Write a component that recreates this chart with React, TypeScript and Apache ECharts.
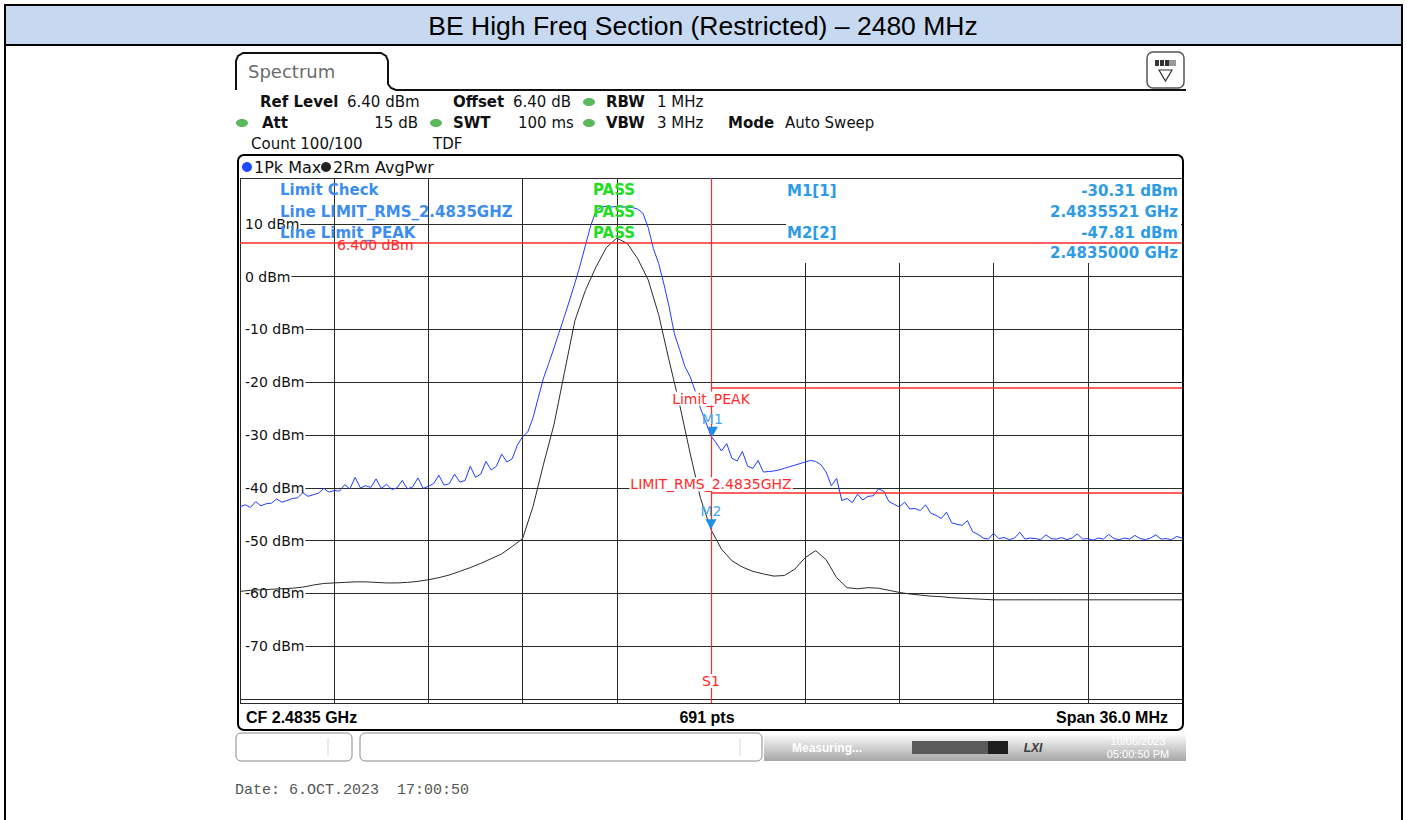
import React, { useEffect, useRef } from "react";
import * as echarts from "echarts";

// ---- sweep definition ----
const START_MHZ = 2465.5;
const SPAN_MHZ = 36.0;
const GRID_DIV_MHZ = 3.6;
const PK_STEP_MHZ = 0.2;
const RMS_STEP_MHZ = 0.4;
const Y_MIN = -80.74;
const Y_MAX = 18.69;
const Y_LABEL_VALUES = [10, 0, -10, -20, -30, -40, -50, -60, -70];

// Trace 1: 1Pk Max (dBm), one value every 0.2 MHz from 2465.5 MHz
const pkMaxDbm = [
  -43.6, -43.2, -43.7, -42.6, -43.4, -43.0, -42.9, -42.1, -42.7, -42.4,
  -42.0, -41.9, -40.9, -41.6, -41.3, -41.0, -40.1, -40.8, -40.5, -40.6,
  -39.4, -40.2, -38.0, -40.0, -39.6, -39.9, -38.3, -40.1, -39.3, -40.3,
  -40.0, -38.6, -40.2, -39.8, -38.1, -40.1, -39.7, -39.2, -37.6, -39.5,
  -39.2, -37.4, -38.9, -38.6, -35.9, -38.0, -37.4, -35.0, -36.6, -35.9,
  -33.6, -35.1, -34.5, -31.9, -30.3, -29.4, -26.7, -22.9, -19.2, -16.4,
  -13.5, -10.5, -7.5, -4.4, -1.2, 2.2, 5.9, 9.6, 12.4, 13.2,
  13.3, 13.2, 13.3, 13.2, 13.2, 13.1, 12.8, 12.0, 9.3, 5.3,
  2.5, -1.4, -5.7, -10.8, -13.8, -17.0, -18.9, -21.7, -25.0, -27.5,
  -30.2, -31.5, -33.0, -31.6, -34.4, -34.9, -33.1, -35.9, -36.3, -34.8,
  -37.0, -36.9, -36.8, -36.6, -36.3, -36.0, -35.7, -35.4, -35.1, -34.8,
  -35.0, -35.6, -37.0, -39.6, -38.2, -42.4, -42.0, -42.8, -41.2, -42.3,
  -41.6, -41.5, -40.2, -40.6, -42.6, -43.1, -43.6, -42.7, -44.0, -43.9,
  -44.3, -43.2, -44.8, -45.2, -45.8, -44.6, -46.6, -46.9, -47.1, -46.2,
  -48.3, -48.8, -49.5, -49.7, -48.6, -49.6, -49.4, -49.8, -49.5, -48.4,
  -49.7, -49.5, -49.6, -49.8, -48.9, -49.6, -49.7, -49.4, -49.8, -49.5,
  -48.7, -49.7, -49.6, -49.9, -49.5, -49.7, -48.8, -49.6, -49.8, -49.5,
  -49.7, -49.0, -49.6, -49.8, -49.5, -48.9, -49.7, -49.6, -49.8, -49.2,
  -49.5,
];

// Trace 2: 2Rm AvgPwr (dBm), one value every 0.4 MHz from 2465.5 MHz
const rmsAvgDbm = [
  -59.6, -59.4, -59.3, -59.2, -59.1, -59.0, -58.8, -58.4, -58.1, -58.0,
  -57.9, -57.8, -57.8, -57.9, -58.0, -58.0, -57.9, -57.7, -57.4, -57.0,
  -56.5, -55.8, -55.1, -54.3, -53.4, -52.5, -51.1, -49.6, -43.5, -35.5,
  -28.0, -18.1, -8.3, -2.6, 1.8, 5.5, 7.3, 6.3, 3.4, -0.6,
  -7.2, -15.9, -24.2, -33.4, -42.0, -47.9, -51.6, -53.8, -55.0, -55.8,
  -56.3, -56.7, -56.6, -55.4, -53.2, -51.9, -53.6, -57.0, -58.9, -59.1,
  -58.9, -59.0, -59.4, -59.8, -60.1, -60.3, -60.5, -60.6, -60.8, -60.9,
  -61.0, -61.1, -61.2, -61.2, -61.2, -61.2, -61.2, -61.2, -61.2, -61.2,
  -61.2, -61.2, -61.2, -61.2, -61.2, -61.2, -61.2, -61.2, -61.2, -61.2,
  -61.2,
];

const DISPLAY_LINE_DBM = 6.4;
const LIMIT_PEAK_DBM = -21.0;
const LIMIT_RMS_DBM = -41.0;
const LIMIT_START_MHZ = 2483.5;
const S1_MHZ = 2483.5;

const markerNames = ["M1", "M2"];
const markerFreqGHz = [2.4835521, 2.4835];
const markerLevelDbm = [-30.31, -47.81];

const DV = '"DejaVu Sans", Verdana, sans-serif';
const LS = '"Liberation Sans", Arial, sans-serif';

const off = (mhz: number) => mhz - START_MHZ;

function T(x: number, y: number, text: string, font: string, fill = "#111", align = "left", z = 20) {
  return {
    type: "text",
    x,
    y,
    z,
    style: { text, font, fill, textAlign: align, textVerticalAlign: "middle", align, verticalAlign: "middle" },
  };
}

function dot(cx: number, cy: number, fill: string, rx = 6, ry = 4) {
  return { type: "ellipse", z: 20, shape: { cx, cy, rx, ry }, style: { fill } };
}

export default function App() {
  const ref = useRef<HTMLDivElement>(null);

  useEffect(() => {
    if (!ref.current) return;
    const chart = echarts.init(ref.current, undefined, { renderer: "svg" });

    const pkData = pkMaxDbm.map((v, i) => [i * PK_STEP_MHZ, v]);
    const rmsData = rmsAvgDbm.map((v, i) => [i * RMS_STEP_MHZ, v]);

    const red = "#ff2a2a";
    const mkBlue = "#2d9be6";
    const limBlue = "#3d8cf0";
    const green = "#22dd22";

    const hdr = `15px ${DV}`;
    const hdrB = `bold 15px ${DV}`;

    const graphic: any[] = [
      // outer table borders + title band
      { type: "rect", z: 0, shape: { x: 5, y: 5, width: 1397, height: 40 }, style: { fill: "#c6d9f1", stroke: "#000", lineWidth: 2 } },
      { type: "line", z: 0, shape: { x1: 5, y1: 5, x2: 5, y2: 820 }, style: { stroke: "#000", lineWidth: 2 } },
      { type: "line", z: 0, shape: { x1: 1402, y1: 5, x2: 1402, y2: 820 }, style: { stroke: "#000", lineWidth: 2 } },
      T(703, 26, "BE High Freq Section (Restricted) – 2480 MHz", `26.5px ${LS}`, "#000", "center"),

      // Spectrum tab
      {
        type: "polyline", z: 0,
        shape: { points: [[236, 90], [236, 61], [238, 56], [243, 53], [381, 53], [386, 56], [388, 61], [388, 84], [391, 88], [396, 90], [1186, 90]] },
        style: { stroke: "#111", lineWidth: 2, fill: null },
      },
      T(248, 71, "Spectrum", `18px ${DV}`, "#6c6c6c"),
      // icon
      { type: "rect", z: 1, shape: { x: 1147, y: 52, width: 37, height: 36, r: 6 }, style: { fill: "#fff", stroke: "#555", lineWidth: 1.5 } },
      { type: "rect", z: 2, shape: { x: 1155, y: 60, width: 14, height: 6 }, style: { fill: "#333" } },
      { type: "rect", z: 2, shape: { x: 1169, y: 60, width: 7, height: 6 }, style: { fill: "#9a9a9a" } },
      { type: "line", z: 3, shape: { x1: 1159.5, y1: 60, x2: 1159.5, y2: 66 }, style: { stroke: "#fff", lineWidth: 1 } },
      { type: "line", z: 3, shape: { x1: 1164.5, y1: 60, x2: 1164.5, y2: 66 }, style: { stroke: "#fff", lineWidth: 1 } },
      { type: "polygon", z: 2, shape: { points: [[1159, 70], [1172, 70], [1165.5, 81]] }, style: { fill: "#fff", stroke: "#333", lineWidth: 1.2 } },

      // header row 1
      T(260, 102, "Ref Level", hdrB),
      T(347, 102, "6.40 dBm", hdr),
      T(453, 102, "Offset", hdrB),
      T(513, 102, "6.40 dB", hdr),
      dot(589, 102, "#5cb85c"),
      T(606, 102, "RBW", hdrB),
      T(657, 102, "1 MHz", hdr),
      // header row 2
      dot(242, 123, "#5cb85c"),
      T(262, 123, "Att", hdrB),
      T(418, 123, "15 dB", hdr, "#111", "right"),
      dot(436, 123, "#5cb85c"),
      T(453, 123, "SWT", hdrB),
      T(518, 123, "100 ms", hdr),
      dot(589, 123, "#5cb85c"),
      T(606, 123, "VBW", hdrB),
      T(657, 123, "3 MHz", hdr),
      T(728, 123, "Mode", hdrB),
      T(785, 123, "Auto Sweep", hdr),
      // header row 3
      T(251, 144, "Count 100/100", hdr),
      T(433, 144, "TDF", hdr),

      // plot frame
      { type: "rect", z: 5, shape: { x: 238, y: 155, width: 945, height: 575, r: 6 }, style: { fill: null, stroke: "#000", lineWidth: 2 } },
      // trace legend
      { type: "circle", z: 20, shape: { cx: 247, cy: 167, r: 5 }, style: { fill: "#1f4bff" } },
      T(254, 167, "1Pk Max", `16px ${DV}`),
      { type: "circle", z: 20, shape: { cx: 326, cy: 167, r: 5 }, style: { fill: "#222" } },
      T(333, 167, "2Rm AvgPwr", `16px ${DV}`),

      // marker table background (hides grid)
      { type: "rect", z: 1, shape: { x: 786, y: 179, width: 395, height: 84 }, style: { fill: "#fff" } },

      // limit check texts
      T(280, 190, "Limit Check", `bold 15px ${DV}`, limBlue),
      T(280, 212, "Line LIMIT_RMS_2.4835GHZ", `bold 15px ${DV}`, limBlue),
      T(280, 233, "Line Limit_PEAK", `bold 15px ${DV}`, limBlue),
      T(614, 190, "PASS", `bold 15px ${DV}`, green, "center"),
      T(614, 212, "PASS", `bold 15px ${DV}`, green, "center"),
      T(614, 233, "PASS", `bold 15px ${DV}`, green, "center"),
      // marker table
      T(787, 191, "M1[1]", `bold 15px ${DV}`, mkBlue),
      T(1178, 191, "-30.31 dBm", `bold 15px ${DV}`, mkBlue, "right"),
      T(1178, 212, "2.4835521 GHz", `bold 15px ${DV}`, mkBlue, "right"),
      T(787, 233, "M2[2]", `bold 15px ${DV}`, mkBlue),
      T(1178, 233, "-47.81 dBm", `bold 15px ${DV}`, mkBlue, "right"),
      T(1178, 253, "2.4835000 GHz", `bold 15px ${DV}`, mkBlue, "right"),
      // display line label
      T(337, 245, "6.400 dBm", `14px ${DV}`, red),

      // bottom info bar
      T(246, 717, "CF 2.4835 GHz", `bold 16px ${LS}`, "#000"),
      T(707, 717, "691 pts", `bold 16px ${LS}`, "#000", "center"),
      T(1168, 717, "Span 36.0 MHz", `bold 16px ${LS}`, "#000", "right"),

      // status bar
      { type: "rect", z: 1, shape: { x: 236, y: 733, width: 116, height: 28, r: 5 }, style: { fill: "#fff", stroke: "#8a8a8a", lineWidth: 1 } },
      { type: "line", z: 2, shape: { x1: 328, y1: 738, x2: 328, y2: 756 }, style: { stroke: "#d8d8d8", lineWidth: 1 } },
      { type: "rect", z: 1, shape: { x: 360, y: 733, width: 402, height: 28, r: 5 }, style: { fill: "#fff", stroke: "#8a8a8a", lineWidth: 1 } },
      { type: "line", z: 2, shape: { x1: 740, y1: 738, x2: 740, y2: 756 }, style: { stroke: "#d8d8d8", lineWidth: 1 } },
      {
        type: "rect", z: 1, shape: { x: 764, y: 733, width: 422, height: 28 },
        style: {
          fill: new echarts.graphic.LinearGradient(0, 0, 0, 1, [
            { offset: 0, color: "#ffffff" },
            { offset: 1, color: "#a6a6a6" },
          ]),
        },
      },
      T(792, 748, "Measuring...", `bold 12px ${LS}`, "#ffffff"),
      { type: "rect", z: 2, shape: { x: 912, y: 741, width: 76, height: 13 }, style: { fill: "#5a5a5a" } },
      { type: "rect", z: 2, shape: { x: 988, y: 741, width: 20, height: 13 }, style: { fill: "#1e1e1e" } },
      T(1033, 748, "LXI", `italic bold 12px ${LS}`, "#3a3a3a", "center"),
      T(1138, 741, "10/06/2023", `11px ${LS}`, "#ffffff", "center"),
      T(1138, 754, "05:00:50 PM", `11px ${LS}`, "#ffffff", "center"),

      // date line
      T(235, 790, "Date: 6.OCT.2023  17:00:50", `15px "Liberation Mono", "DejaVu Sans Mono", monospace`, "#555"),
    ];

    const markerPoints = markerNames.map((name, k) => ({
      name,
      coord: [off(markerFreqGHz[k] * 1000), markerLevelDbm[k]],
      symbol: "triangle",
      symbolRotate: 180,
      symbolSize: [11, 10],
      symbolOffset: [0, -5],
      itemStyle: { color: "#1e8ee6" },
      label: {
        show: true,
        formatter: name,
        position: "top",
        distance: 1,
        color: "#46a6ea",
        fontFamily: DV,
        fontSize: 14,
      },
    }));

    const textPoint = (x: number, y: number, text: string, offset: number[]) => ({
      coord: [x, y],
      symbol: "circle",
      symbolSize: 1,
      itemStyle: { color: "rgba(0,0,0,0)" },
      label: {
        show: true,
        formatter: text,
        position: "inside",
        offset,
        color: red,
        fontFamily: DV,
        fontSize: 14,
        backgroundColor: "#fff",
        padding: [0, 1],
      },
    });

    const option: any = {
      animation: false,
      backgroundColor: "#fff",
      textStyle: { fontFamily: DV },
      grid: { left: 240, top: 178, width: 942, height: 525, containLabel: false },
      xAxis: {
        type: "value",
        min: 0,
        max: SPAN_MHZ,
        interval: GRID_DIV_MHZ,
        axisLine: { show: false },
        axisTick: { show: false },
        axisLabel: { show: false },
        splitLine: { show: true, lineStyle: { color: "#2a2a2a", width: 1 } },
      },
      yAxis: [
        {
          type: "value",
          min: Y_MIN,
          max: Y_MAX,
          splitNumber: 10,
          minInterval: 10,
          maxInterval: 10,
          axisLine: { show: false },
          axisTick: { show: false },
          axisLabel: { show: false },
          splitLine: { show: true, lineStyle: { color: "#2a2a2a", width: 1 } },
        },
        {
          type: "value",
          min: Y_MIN,
          max: Y_MAX,
          splitNumber: 10,
          minInterval: 10,
          maxInterval: 10,
          position: "left",
          axisLine: { show: false },
          axisTick: { show: false },
          splitLine: { show: false },
          axisLabel: {
            show: true,
            inside: true,
            margin: 1,
            showMinLabel: false,
            showMaxLabel: false,
            formatter: (v: number) => (Y_LABEL_VALUES.indexOf(Math.round(v)) >= 0 && Math.abs(v - Math.round(v)) < 1e-6 ? `{a|${Math.round(v)} dBm}` : ""),
            rich: {
              a: { color: "#111", fontFamily: DV, fontSize: 14, backgroundColor: "#fff", padding: [0, 1, 0, 4] },
            },
          },
        },
      ],
      graphic,
      series: [
        {
          type: "line",
          name: "2Rm AvgPwr",
          data: rmsData,
          symbol: "none",
          z: 2,
          silent: true,
          lineStyle: { color: "#2b2b2b", width: 1 },
          markLine: {
            silent: true,
            symbol: ["none", "none"],
            label: { show: false },
            lineStyle: { color: red, width: 1.5, type: "solid", opacity: 1 },
            data: [
              [{ coord: [off(LIMIT_START_MHZ), LIMIT_PEAK_DBM] }, { coord: [SPAN_MHZ, LIMIT_PEAK_DBM] }],
              [{ coord: [off(LIMIT_START_MHZ), LIMIT_RMS_DBM] }, { coord: [SPAN_MHZ, LIMIT_RMS_DBM] }],
              { yAxis: DISPLAY_LINE_DBM, lineStyle: { color: red, width: 1.5, type: "solid", opacity: 1 } },
              { xAxis: off(S1_MHZ), lineStyle: { color: red, width: 1.2, type: "solid", opacity: 1 } },
            ],
          },
        },
        {
          type: "line",
          name: "1Pk Max",
          data: pkData,
          symbol: "none",
          z: 3,
          silent: true,
          lineStyle: { color: "#1f3cff", width: 1 },
        },
        {
          type: "line",
          name: "annotations",
          data: [],
          z: 10,
          silent: true,
          markPoint: {
            silent: true,
            data: [
              ...markerPoints,
              textPoint(off(LIMIT_START_MHZ), LIMIT_PEAK_DBM, "Limit_PEAK", [0, 11]),
              textPoint(off(LIMIT_START_MHZ), LIMIT_RMS_DBM, "LIMIT_RMS_2.4835GHZ", [0, -9]),
              textPoint(off(S1_MHZ), Y_MIN, "S1", [0, -22]),
            ],
          },
        },
      ],
    };

    chart.setOption(option);
    return () => chart.dispose();
  }, []);

  return <div ref={ref} style={{ position: "fixed", left: 0, top: 0, width: 1407, height: 820 }} />;
}
